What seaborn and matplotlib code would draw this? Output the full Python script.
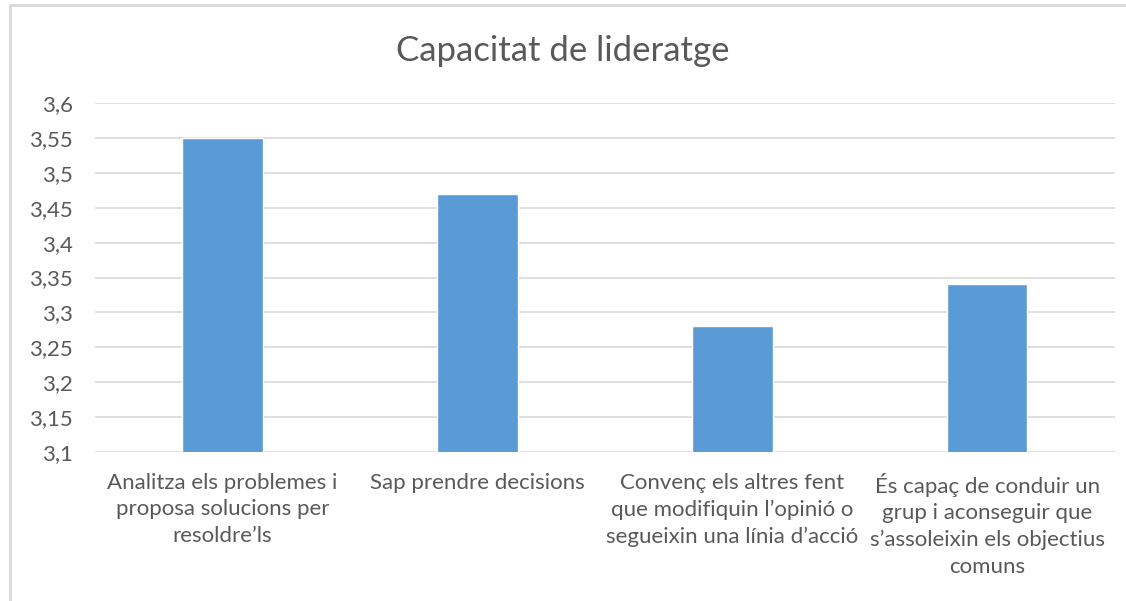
import matplotlib
matplotlib.use("Agg")
import matplotlib.pyplot as plt
import seaborn as sns
import pandas as pd
from matplotlib.patches import Rectangle

# data
categories = [
    "Analitza els problemes i\nproposa solucions per\nresoldre\u2019ls",
    "Sap prendre decisions",
    "Conven\u00e7 els altres fent\nque modifiquin l\u2019opini\u00f3 o\nsegueixin una l\u00ednia d\u2019acci\u00f3",
    "\u00c9s capa\u00e7 de conduir un\ngrup i aconseguir que\ns\u2019assoleixin els objectius\ncomuns",
]
values = [3.55, 3.47, 3.28, 3.34]
yticks = [3.1, 3.15, 3.2, 3.25, 3.3, 3.35, 3.4, 3.45, 3.5, 3.55, 3.6]

BAR = "#5B9BD5"
TXT = "#595959"
GRID = "#D9D9D9"

sns.set_theme(style="white")
plt.rcParams["font.family"] = ["Lato", "DejaVu Sans"]

df = pd.DataFrame({"cat": categories, "val": values})

fig = plt.figure(figsize=(11.26, 6.01), dpi=100)
ax = fig.add_axes([0.0844, 0.2479, 0.9056, 0.5807])

sns.barplot(data=df, x="cat", y="val", color=BAR, width=0.315, ax=ax,
            saturation=1, zorder=3)

ax.set_ylim(3.1, 3.6)
ax.set_yticks(yticks)
ax.set_yticklabels([f"{v:g}".replace(".", ",") for v in yticks])
ax.yaxis.grid(True, color=GRID, linewidth=1.2, zorder=0)
ax.set_axisbelow(True)
for s in ax.spines.values():
    s.set_visible(False)
ax.set_xlabel("")
ax.set_ylabel("")
ax.tick_params(axis="y", length=0, labelsize=16, colors=TXT, pad=16)
ax.tick_params(axis="x", length=0, labelsize=16, colors=TXT, pad=15)
for lab in ax.get_xticklabels():
    lab.set_linespacing(1.4)
    lab.set_horizontalalignment("center")

fig.text(0.5, 0.915, "Capacitat de lideratge", ha="center", va="center",
         fontsize=25, color=TXT)

# chart border (top and left visible)
fig.patches.append(Rectangle((10 / 1126, -0.05), 1.1, 1 - 5 / 601 + 0.05,
                             transform=fig.transFigure, fill=False,
                             edgecolor="#D9D9D9", linewidth=2))

fig.savefig("out.png", dpi=100)
